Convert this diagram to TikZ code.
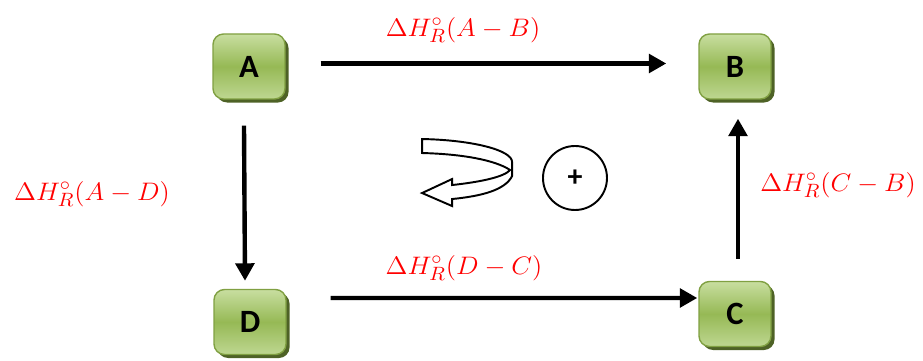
\documentclass[tikz,border=0pt]{standalone}
\usepackage{fontspec}
\usepackage{tikz}
\usetikzlibrary{arrows.meta,shadows}
\newfontfamily\boxfont{Carlito}
\definecolor{boxgreen}{RGB}{150,185,85}
\definecolor{boxlight}{RGB}{200,222,160}
\definecolor{boxedge}{RGB}{128,160,66}
\definecolor{boxshadow}{RGB}{78,98,38}
\definecolor{dhred}{RGB}{255,0,0}
\newcommand{\dH}[1]{\scalebox{1.06}[1]{$\Delta H^{\circ}_{R}(#1)$}}
\tikzset{
  species/.style = {rectangle, rounded corners=6pt, minimum width=1.44cm,
                    minimum height=1.3cm, draw=boxedge, line width=0.8pt,
                    top color=boxlight, bottom color=boxlight!80!boxgreen, middle color=boxgreen,
                    drop shadow={shadow xshift=2pt, shadow yshift=-2pt,
                                 fill=boxshadow, opacity=1},
                    font=\boxfont\bfseries\fontsize{18.5}{20}\selectfont},
  flowarr/.style = {-{Triangle[length=3.5mm,width=3.7mm]}, line width=2.5pt},
  enthlbl/.style = {text=dhred, font=\fontsize{15}{17}\selectfont, inner sep=1pt}
}

\begin{document}
\begin{tikzpicture}
  \useasboundingbox (0,0) rectangle (18.46,7.22);
  \node[species] (A) at (4.98,5.89) {A};
  \node[species] (B) at (14.7,5.89) {B};
  \node[species] (D) at (5.0,0.78) {D};
  \node[species] (C) at (14.7,0.94) {C};
  % reaction paths
  \draw[flowarr] ([xshift=0.7cm,yshift=0.06cm]A.east) -- ([xshift=-0.64cm,yshift=0.06cm]B.west);
  \draw[flowarr] ([xshift=-0.1cm,yshift=-0.52cm]A.south) -- ([xshift=-0.1cm,yshift=0.16cm]D.north);
  \draw[flowarr] ([xshift=0.88cm,yshift=0.48cm]D.east) -- ([xshift=-0.02cm,yshift=0.32cm]C.west);
  \draw[flowarr] ([xshift=0.06cm,yshift=0.44cm]C.north) -- ([xshift=0.06cm,yshift=-0.38cm]B.south);
  \node[enthlbl] (AB) at (9.26,6.62) {\dH{A-B}};
  \node[enthlbl] (DC) at (9.28,1.86) {\dH{D-C}};
  \node[enthlbl] (AD) at (1.84,3.34) {\dH{A-D}};
  \node[enthlbl] (CB) at (16.76,3.52) {\dH{C-B}};
  % cycle sense
  \begin{scope}[shift={(0,7.22)},x=0.02cm,y=-0.02cm]
    \draw[line width=1.1pt, fill=white, line join=miter]
      (422,139) .. controls (472,140) and (512,150) .. (512,162) -- (512,176)
      .. controls (505,190) and (482,196) .. (452,199) -- (452,206) -- (422,193)
      -- (452,179) -- (452,185) .. controls (480,182) and (504,177) .. (510,170)
      .. controls (495,160) and (462,154) .. (422,153) -- cycle;
  \end{scope}
  \node[circle, draw, line width=1.1pt, minimum size=1.28cm,
        font=\boxfont\bfseries\fontsize{17}{18}\selectfont] (sense) at (11.5,3.66) {+};
\end{tikzpicture}
\end{document}
